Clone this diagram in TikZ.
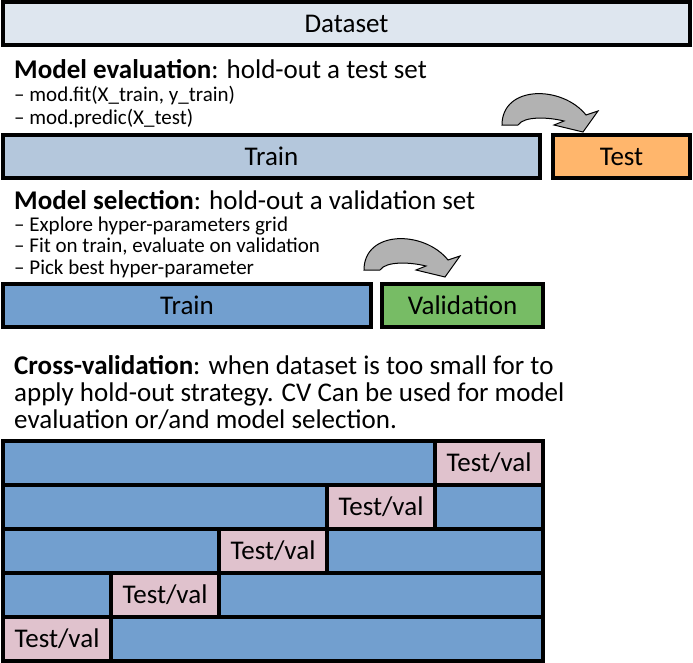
\documentclass[tikz,border=0pt]{standalone}
\usepackage{fontspec}
\setmainfont{Carlito}
\usetikzlibrary{positioning}

\definecolor{dsblue}{HTML}{DEE6EF}
\definecolor{trlight}{HTML}{B4C7DC}
\definecolor{trblue}{HTML}{729FCF}
\definecolor{teorange}{HTML}{FFB66C}
\definecolor{vagreen}{HTML}{77BC65}
\definecolor{cvpink}{HTML}{E0C2CD}
\definecolor{argray}{HTML}{B2B2B2}

\begin{document}
\begin{tikzpicture}[x=1pt, y=-1pt,
    box/.style={draw=black, line width=3.5pt, minimum height=43pt, inner sep=0pt, font=\fontsize{27}{30}\selectfont},
    heading/.style={anchor=base west, inner sep=0pt, font=\fontsize{27}{30}\selectfont},
    item/.style={anchor=base west, inner sep=0pt, font=\fontsize{21}{23}\selectfont},
    bendshape/.style={draw=black, fill=argray, line width=1pt},
    bendarrow/.pic={
        \draw[bendshape] (0,0) .. controls (0,-40) and (60,-40) .. (84,-10) -- (96,-14) -- (81,7)
            -- (52,0) -- (62,-4) .. controls (46,-8) and (22,-9) .. (16,0) -- cycle;
    }
]
\useasboundingbox (0,0) rectangle (693,662);

% Dataset
\node[box, fill=dsblue, minimum width=687pt] (DS) at (346.5,23.5) {Dataset};

% Model evaluation
\node[heading] (H1) at (14,78) {\textbf{Model evaluation}: hold-out a test set};
\node[item] (L1) at (14,101) {– mod.fit(X\_train, y\_train)};
\node[item] (L2) at (14,124) {– mod.predic(X\_test)};
\node[box, fill=trlight, minimum width=537pt] (TR1) at (271.5,156.5) {Train};
\node[box, fill=teorange, minimum width=137pt] (TE) at (621.5,156.5) {Test};
\pic at (502,125) {bendarrow};

% Model selection
\node[heading] (H2) at (14,209) {\textbf{Model selection}: hold-out a validation set};
\node[item] (L3) at (14,231) {– Explore hyper-parameters grid};
\node[item] (L4) at (14,252) {– Fit on train, evaluate on validation};
\node[item] (L5) at (14,274) {– Pick best hyper-parameter};
\node[box, fill=trblue, minimum width=368pt] (TR2) at (187,305.5) {Train};
\node[box, fill=vagreen, minimum width=161pt] (VA) at (462.5,305.5) {Validation};
\pic at (364,270) {bendarrow};

% Cross-validation
\node[heading] (H3) at (14,374) {\textbf{Cross-validation}: when dataset is too small for to};
\node[heading] (H4) at (14,401) {apply hold-out strategy. CV Can be used for model};
\node[heading] (H5) at (14,428) {evaluation or/and model selection.};

% Folds
\foreach \i in {0,...,4} {
    \node[box, fill=trblue, minimum width=540pt, minimum height=44pt] (F\i) at (273,{463+44*\i}) {};
    \node[box, fill=cvpink, minimum width=108pt, minimum height=44pt] (V\i) at ({57+108*(4-\i)},{463+44*\i}) {Test/val};
}

\end{tikzpicture}
\end{document}
